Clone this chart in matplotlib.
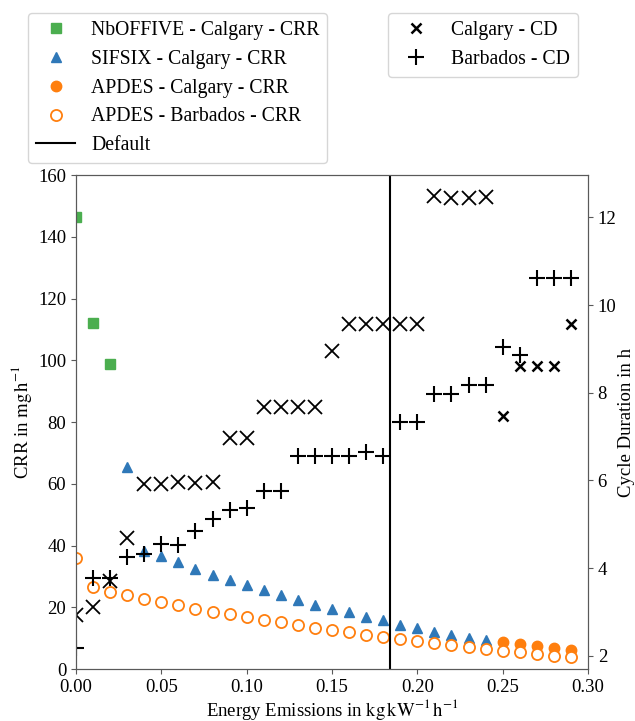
import matplotlib
matplotlib.use('Agg')
import matplotlib.pyplot as plt
from matplotlib.lines import Line2D

plt.rcParams['font.family'] = ['Liberation Serif', 'DejaVu Serif']
plt.rcParams['mathtext.fontset'] = 'stix'
plt.rcParams['font.size'] = 13.5

# ------------------------------------------------------------
# Data
# ------------------------------------------------------------
nb_x = [0.00, 0.01, 0.02]
nb_crr = [146.6, 112.0, 98.8]

sif_x = [0.03, 0.04, 0.05, 0.06, 0.07, 0.08, 0.09, 0.10, 0.11, 0.12, 0.13,
         0.14, 0.15, 0.16, 0.17, 0.18, 0.19, 0.20, 0.21, 0.22, 0.23, 0.24]
sif_crr = [65.3, 38.4, 36.6, 34.6, 32.3, 30.6, 28.8, 27.1, 25.5, 24.1, 22.4,
           20.8, 19.3, 18.4, 17.0, 15.8, 14.4, 13.2, 12.0, 10.9, 10.2, 9.4]

apdes_cal_x = [0.25, 0.26, 0.27, 0.28, 0.29]
apdes_cal_crr = [8.6, 8.0, 7.4, 6.9, 6.3]

energy = [0.00, 0.01, 0.02, 0.03, 0.04, 0.05, 0.06, 0.07, 0.08, 0.09, 0.10,
          0.11, 0.12, 0.13, 0.14, 0.15, 0.16, 0.17, 0.18, 0.19, 0.20, 0.21,
          0.22, 0.23, 0.24, 0.25, 0.26, 0.27, 0.28, 0.29]
apdes_bar_crr = [36.0, 26.5, 25.0, 23.9, 22.7, 21.7, 20.6, 19.6, 18.6, 17.7,
                 16.8, 15.9, 15.1, 14.3, 13.4, 12.7, 11.9, 11.1, 10.4, 9.7,
                 9.2, 8.4, 7.8, 7.1, 6.6, 5.9, 5.4, 4.8, 4.3, 3.8]

calgary_cd = [2.93, 3.12, 3.70, 4.68, 5.93, 5.93, 5.97, 5.95, 5.96, 6.96,
              6.96, 7.68, 7.68, 7.68, 7.68, 8.96, 9.56, 9.56, 9.56, 9.56,
              9.56, 12.49, 12.45, 12.45, 12.47, 7.48, 8.60, 8.60, 8.60, 9.56]
barbados_cd = [2.17, 3.78, 3.78, 4.25, 4.32, 4.55, 4.52, 4.85, 5.12, 5.32,
               5.38, 5.75, 5.75, 6.55, 6.55, 6.55, 6.55, 6.65, 6.55, 7.33,
               7.33, 7.97, 7.97, 8.18, 8.18, 9.05, 8.85, 10.62, 10.62, 10.62]

default_x = 0.184

# ------------------------------------------------------------
# Plot
# ------------------------------------------------------------
fig = plt.figure(figsize=(6.35, 7.21), dpi=100)
ax = fig.add_axes([0.1197, 0.0721, 0.8063, 0.6849])
ax2 = ax.twinx()

green = '#4bae4f'
blue = '#2f78b8'
orange = '#ff7f0e'

ax.plot(nb_x, nb_crr, 's', color=green, ms=7.5, ls='none')
ax.plot(sif_x, sif_crr, '^', color=blue, ms=7.5, ls='none')
ax.plot(apdes_cal_x, apdes_cal_crr, 'o', color=orange, ms=7.5, ls='none')
ax.plot(energy, apdes_bar_crr, 'o', mfc='white', mec=orange, mew=1.3, ms=8, ls='none')
ax.axvline(default_x, color='black', lw=1.5)

# Calgary CD: larger thin crosses before the APDES range, small bold ones after
n_big = 25
ax2.plot(energy[:n_big], calgary_cd[:n_big], 'x', color='black', ms=10, mew=1.3, ls='none')
ax2.plot(energy[n_big:], calgary_cd[n_big:], 'x', color='black', ms=7, mew=1.8, ls='none')
ax2.plot(energy, barbados_cd, '+', color='black', ms=11, mew=1.5, ls='none')

ax.set_xlim(0, 0.30)
ax.set_ylim(0, 160)
ax2.set_ylim(1.70, 12.96)
ax2.set_yticks([2, 4, 6, 8, 10, 12])

ax.set_xlabel(r'Energy Emissions in $\mathrm{kg\,kW^{-1}\,h^{-1}}$', labelpad=1)
ax.set_ylabel(r'CRR in $\mathrm{mg\,h^{-1}}$', labelpad=3)
ax2.set_ylabel('Cycle Duration in h', labelpad=1)

for a in (ax, ax2):
    for s in a.spines.values():
        s.set_color('0.35')
    a.tick_params(colors='0.35', labelcolor='black')

# Legends above the axes
h1 = [
    Line2D([], [], marker='s', color=green, ls='none', ms=7),
    Line2D([], [], marker='^', color=blue, ls='none', ms=7.5),
    Line2D([], [], marker='o', color=orange, ls='none', ms=7.5),
    Line2D([], [], marker='o', mfc='white', mec=orange, mew=1.3, ls='none', ms=8),
    Line2D([], [], color='black', lw=1.5),
]
l1 = ['NbOFFIVE - Calgary - CRR', 'SIFSIX - Calgary - CRR', 'APDES - Calgary - CRR',
      'APDES - Barbados - CRR', 'Default']
fig.legend(h1, l1, loc='upper left', bbox_to_anchor=(28 / 635, 1 - 13 / 721),
           borderaxespad=0, fontsize=14.2)

h2 = [
    Line2D([], [], marker='x', color='black', ls='none', ms=7, mew=1.8),
    Line2D([], [], marker='+', color='black', ls='none', ms=11, mew=1.5),
]
l2 = ['Calgary - CD', 'Barbados - CD']
fig.legend(h2, l2, loc='upper left', bbox_to_anchor=(388 / 635, 1 - 13 / 721),
           borderaxespad=0, fontsize=14.2)

plt.savefig('out.png', dpi=100)
